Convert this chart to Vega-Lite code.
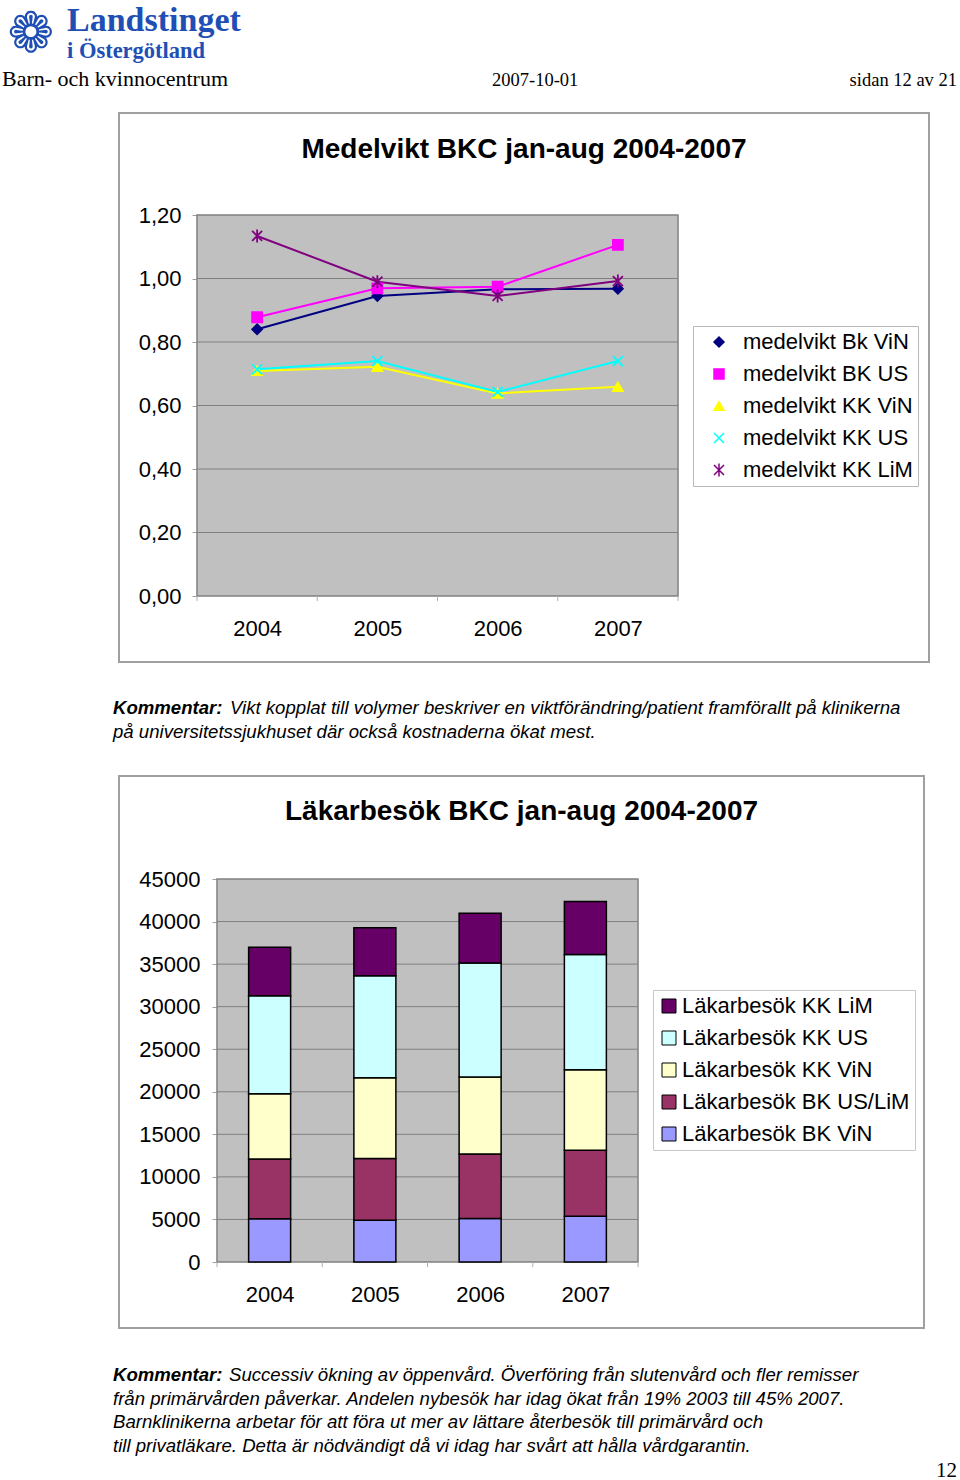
{
  "$schema": "https://vega.github.io/schema/vega-lite/v6.json",
  "background": "white",
  "padding": {"left": 2, "top": 0, "right": 0, "bottom": 0},
  "spacing": 0,
  "bounds": "flush",
  "resolve": {
    "scale": {"color": "independent", "stroke": "independent", "shape": "independent"},
    "legend": {"color": "independent", "stroke": "independent", "shape": "independent"}
  },
  "config": {"view": {"stroke": null}, "font": "Liberation Sans"},
  "datasets": {
    "header": [
      {"part": "mark", "text": "❁"},
      {"part": "name1", "text": "Landstinget"},
      {"part": "name2", "text": "i Östergötland"},
      {"part": "unit", "text": "Barn- och kvinnocentrum"},
      {"part": "date", "text": "2007-10-01"},
      {"part": "page", "text": "sidan 12 av 21"}
    ],
    "weight": [
      {"year": 2004, "series": "medelvikt Bk ViN", "value": 0.840},
      {"year": 2005, "series": "medelvikt Bk ViN", "value": 0.945},
      {"year": 2006, "series": "medelvikt Bk ViN", "value": 0.966},
      {"year": 2007, "series": "medelvikt Bk ViN", "value": 0.968},
      {"year": 2004, "series": "medelvikt BK US", "value": 0.878},
      {"year": 2005, "series": "medelvikt BK US", "value": 0.969},
      {"year": 2006, "series": "medelvikt BK US", "value": 0.974},
      {"year": 2007, "series": "medelvikt BK US", "value": 1.106},
      {"year": 2004, "series": "medelvikt KK ViN", "value": 0.709},
      {"year": 2005, "series": "medelvikt KK ViN", "value": 0.722},
      {"year": 2006, "series": "medelvikt KK ViN", "value": 0.638},
      {"year": 2007, "series": "medelvikt KK ViN", "value": 0.659},
      {"year": 2004, "series": "medelvikt KK US", "value": 0.714},
      {"year": 2005, "series": "medelvikt KK US", "value": 0.740},
      {"year": 2006, "series": "medelvikt KK US", "value": 0.643},
      {"year": 2007, "series": "medelvikt KK US", "value": 0.740},
      {"year": 2004, "series": "medelvikt KK LiM", "value": 1.134},
      {"year": 2005, "series": "medelvikt KK LiM", "value": 0.990},
      {"year": 2006, "series": "medelvikt KK LiM", "value": 0.945},
      {"year": 2007, "series": "medelvikt KK LiM", "value": 0.992}
    ],
    "weightTicks": [{"v": 0.2}, {"v": 0.4}, {"v": 0.6}, {"v": 0.8}, {"v": 1.0}],
    "visitTicks": [{"v": 5000}, {"v": 10000}, {"v": 15000}, {"v": 20000}, {"v": 25000}, {"v": 30000}, {"v": 35000}, {"v": 40000}],
    "bounds": [{"b": 2003.5}, {"b": 2004.5}, {"b": 2005.5}, {"b": 2006.5}, {"b": 2007.5}],
    "visits": [
      {"year": 2004, "series": "Läkarbesök BK ViN", "seriesIndex": 1, "visits": 5070},
      {"year": 2004, "series": "Läkarbesök BK US/LiM", "seriesIndex": 2, "visits": 7040},
      {"year": 2004, "series": "Läkarbesök KK ViN", "seriesIndex": 3, "visits": 7660},
      {"year": 2004, "series": "Läkarbesök KK US", "seriesIndex": 4, "visits": 11500},
      {"year": 2004, "series": "Läkarbesök KK LiM", "seriesIndex": 5, "visits": 5720},
      {"year": 2005, "series": "Läkarbesök BK ViN", "seriesIndex": 1, "visits": 4910},
      {"year": 2005, "series": "Läkarbesök BK US/LiM", "seriesIndex": 2, "visits": 7240},
      {"year": 2005, "series": "Läkarbesök KK ViN", "seriesIndex": 3, "visits": 9510},
      {"year": 2005, "series": "Läkarbesök KK US", "seriesIndex": 4, "visits": 11970},
      {"year": 2005, "series": "Läkarbesök KK LiM", "seriesIndex": 5, "visits": 5630},
      {"year": 2006, "series": "Läkarbesök BK ViN", "seriesIndex": 1, "visits": 5110},
      {"year": 2006, "series": "Läkarbesök BK US/LiM", "seriesIndex": 2, "visits": 7590},
      {"year": 2006, "series": "Läkarbesök KK ViN", "seriesIndex": 3, "visits": 9050},
      {"year": 2006, "series": "Läkarbesök KK US", "seriesIndex": 4, "visits": 13370},
      {"year": 2006, "series": "Läkarbesök KK LiM", "seriesIndex": 5, "visits": 5870},
      {"year": 2007, "series": "Läkarbesök BK ViN", "seriesIndex": 1, "visits": 5380},
      {"year": 2007, "series": "Läkarbesök BK US/LiM", "seriesIndex": 2, "visits": 7750},
      {"year": 2007, "series": "Läkarbesök KK ViN", "seriesIndex": 3, "visits": 9470},
      {"year": 2007, "series": "Läkarbesök KK US", "seriesIndex": 4, "visits": 13530},
      {"year": 2007, "series": "Läkarbesök KK LiM", "seriesIndex": 5, "visits": 6220}
    ],
    "comment1": [
      {"line": 1, "kind": "label", "text": "Kommentar:"},
      {"line": 1, "kind": "body", "text": "Vikt kopplat till volymer beskriver en viktförändring/patient framförallt på klinikerna"},
      {"line": 2, "kind": "body", "text": "på universitetssjukhuset där också kostnaderna ökat mest."}
    ],
    "comment2": [
      {"line": 1, "kind": "label", "text": "Kommentar:"},
      {"line": 1, "kind": "body", "text": "Successiv ökning av öppenvård. Överföring från slutenvård och fler remisser"},
      {"line": 2, "kind": "body", "text": "från primärvården påverkar. Andelen nybesök har idag ökat från 19% 2003 till 45% 2007."},
      {"line": 3, "kind": "body", "text": "Barnklinikerna arbetar för att föra ut mer av lättare återbesök till primärvård och"},
      {"line": 4, "kind": "body", "text": "till privatläkare. Detta är nödvändigt då vi idag har svårt att hålla vårdgarantin."}
    ],
    "pageNo": [{"text": "12"}]
  },
  "vconcat": [
    {
      "width": 810,
      "height": 113,
      "data": {"name": "header"},
      "layer": [
        {"transform": [{"filter": "datum.part == 'mark'"}],
         "mark": {"type": "text", "x": -88, "y": 35, "align": "center", "baseline": "middle", "fontSize": 56, "font": "DejaVu Sans", "color": "#1f4fb5"},
         "encoding": {"text": {"field": "text"}}},
        {"transform": [{"filter": "datum.part == 'name1'"}],
         "mark": {"type": "text", "x": -52, "y": 31, "align": "left", "baseline": "alphabetic", "fontSize": 34, "font": "Liberation Serif", "fontWeight": "bold", "color": "#1f4fb5"},
         "encoding": {"text": {"field": "text"}}},
        {"transform": [{"filter": "datum.part == 'name2'"}],
         "mark": {"type": "text", "x": -52, "y": 58, "align": "left", "baseline": "alphabetic", "fontSize": 22.5, "font": "Liberation Serif", "fontWeight": "bold", "color": "#1f4fb5"},
         "encoding": {"text": {"field": "text"}}},
        {"transform": [{"filter": "datum.part == 'unit'"}],
         "mark": {"type": "text", "x": -117, "y": 86, "align": "left", "baseline": "alphabetic", "fontSize": 22, "font": "Liberation Serif", "color": "black"},
         "encoding": {"text": {"field": "text"}}},
        {"transform": [{"filter": "datum.part == 'date'"}],
         "mark": {"type": "text", "x": 373, "y": 86, "align": "left", "baseline": "alphabetic", "fontSize": 18.5, "font": "Liberation Serif", "color": "black"},
         "encoding": {"text": {"field": "text"}}},
        {"transform": [{"filter": "datum.part == 'page'"}],
         "mark": {"type": "text", "x": 838, "y": 86, "align": "right", "baseline": "alphabetic", "fontSize": 18.5, "font": "Liberation Serif", "color": "black"},
         "encoding": {"text": {"field": "text"}}}
      ]
    },
    {
      "width": 810,
      "height": 549,
      "view": {"stroke": "#a0a0a0", "strokeWidth": 2, "fill": "white"},
      "title": {"text": "Medelvikt BKC jan-aug 2004-2007", "fontSize": 28, "fontWeight": "bold", "color": "black", "anchor": "middle", "frame": "group", "offset": -51},
      "layer": [
        {
          "data": {"values": [{}]},
          "mark": {"type": "rect", "fill": "#c0c0c0", "stroke": "#808080", "strokeWidth": 1.5},
          "encoding": {
            "x": {"datum": 2003.5, "type": "quantitative",
                  "scale": {"domain": [2003.5, 2007.5], "range": [78, 559], "nice": false, "zero": false, "padding": 0},
                  "axis": {"orient": "bottom", "offset": -66, "values": [2004, 2005, 2006, 2007], "format": "d", "title": null, "grid": false, "domain": false, "ticks": false, "tickSize": 0, "labelFontSize": 22, "labelColor": "black", "labelPadding": 22}},
            "x2": {"datum": 2007.5},
            "y": {"datum": 0, "type": "quantitative",
                  "scale": {"domain": [0, 1.2], "range": [483, 102], "nice": false, "zero": false, "padding": 0},
                  "axis": {"orient": "left", "offset": -78, "values": [0, 0.2, 0.4, 0.6, 0.8, 1.0, 1.2], "labelExpr": "replace(format(datum.value, '.2f'), '.', ',')", "title": null, "grid": false, "domain": false, "tickColor": "#a0a0a0", "tickSize": 5, "labelFontSize": 22, "labelColor": "black", "labelPadding": 11}},
            "y2": {"datum": 1.2}
          }
        },
        {
          "data": {"name": "weightTicks"},
          "mark": {"type": "rule", "color": "#808080", "strokeWidth": 1},
          "encoding": {"y": {"field": "v", "type": "quantitative"}, "x": {"datum": 2003.5, "type": "quantitative"}, "x2": {"datum": 2007.5}}
        },
        {
          "data": {"name": "bounds"},
          "mark": {"type": "rule", "color": "#b0b0b0", "strokeWidth": 1},
          "encoding": {"x": {"field": "b", "type": "quantitative"}, "y": {"datum": 0, "type": "quantitative"}, "y2": {"datum": -0.016}}
        },
        {
          "data": {"name": "weight"},
          "mark": {"type": "line", "strokeWidth": 2},
          "encoding": {
            "x": {"field": "year", "type": "quantitative"},
            "y": {"field": "value", "type": "quantitative"},
            "color": {"field": "series", "type": "nominal",
                      "scale": {"domain": ["medelvikt Bk ViN", "medelvikt BK US", "medelvikt KK ViN", "medelvikt KK US", "medelvikt KK LiM"], "range": ["#000080", "#ff00ff", "#ffff00", "#00ffff", "#800080"]},
                      "legend": {"orient": "none", "legendX": 574, "legendY": 213, "title": null, "labelFontSize": 22, "labelColor": "black", "labelLimit": 400, "strokeColor": "#b8b8b8", "fillColor": "white", "padding": 5, "rowPadding": 10, "symbolOffset": 10, "labelOffset": 13, "symbolSize": 100, "symbolStrokeWidth": 1.5}}
          }
        },
        {
          "data": {"name": "weight"},
          "mark": {"type": "point", "filled": true, "size": 100, "strokeWidth": 1.8, "opacity": 1},
          "encoding": {
            "x": {"field": "year", "type": "quantitative"},
            "y": {"field": "value", "type": "quantitative"},
            "color": {"field": "series", "type": "nominal"},
            "stroke": {"field": "series", "type": "nominal",
                       "scale": {"domain": ["medelvikt Bk ViN", "medelvikt BK US", "medelvikt KK ViN", "medelvikt KK US", "medelvikt KK LiM"], "range": ["#000080", "#ff00ff", "#ffff00", "#00ffff", "#800080"]}},
            "shape": {"field": "series", "type": "nominal",
                      "scale": {"domain": ["medelvikt Bk ViN", "medelvikt BK US", "medelvikt KK ViN", "medelvikt KK US", "medelvikt KK LiM"], "range": ["diamond", "square", "triangle-up", "M-1,-1L1,1M-1,1L1,-1", "M-1,-1L1,1M-1,1L1,-1M0,-1.3L0,1.3"]}}
          }
        }
      ]
    },
    {
      "width": 810,
      "height": 114,
      "data": {"name": "comment1"},
      "encoding": {
        "y": {"field": "line", "type": "ordinal", "scale": {"type": "point", "range": [46, 70], "padding": 0}, "axis": null},
        "text": {"field": "text"}
      },
      "layer": [
        {"transform": [{"filter": "datum.kind == 'label'"}],
         "mark": {"type": "text", "x": -6, "align": "left", "baseline": "middle", "fontSize": 18.6, "fontWeight": "bold", "fontStyle": "italic", "color": "black"}},
        {"transform": [{"filter": "datum.kind == 'body' && datum.line == 1"}],
         "mark": {"type": "text", "x": 111, "align": "left", "baseline": "middle", "fontSize": 18.6, "fontStyle": "italic", "color": "black"}},
        {"transform": [{"filter": "datum.kind == 'body' && datum.line > 1"}],
         "mark": {"type": "text", "x": -6, "align": "left", "baseline": "middle", "fontSize": 18.6, "fontStyle": "italic", "color": "black"}}
      ]
    },
    {
      "width": 805,
      "height": 552,
      "view": {"stroke": "#a0a0a0", "strokeWidth": 2, "fill": "white"},
      "title": {"text": "Läkarbesök BKC jan-aug 2004-2007", "fontSize": 28, "fontWeight": "bold", "color": "black", "anchor": "middle", "frame": "group", "offset": -50},
      "layer": [
        {
          "data": {"values": [{}]},
          "mark": {"type": "rect", "fill": "#c0c0c0", "stroke": "#808080", "strokeWidth": 1.5},
          "encoding": {
            "x": {"datum": 2003.5, "type": "quantitative",
                  "scale": {"domain": [2003.5, 2007.5], "range": [98, 519], "nice": false, "zero": false, "padding": 0},
                  "axis": {"orient": "bottom", "offset": -66, "values": [2004, 2005, 2006, 2007], "format": "d", "title": null, "grid": false, "domain": false, "ticks": false, "tickSize": 0, "labelFontSize": 22, "labelColor": "black", "labelPadding": 22}},
            "x2": {"datum": 2007.5},
            "y": {"datum": 0, "type": "quantitative",
                  "scale": {"domain": [0, 45000], "range": [486, 103], "nice": false, "zero": false, "padding": 0},
                  "axis": {"orient": "left", "offset": -98, "values": [0, 5000, 10000, 15000, 20000, 25000, 30000, 35000, 40000, 45000], "format": "d", "title": null, "grid": false, "domain": false, "tickColor": "#a0a0a0", "tickSize": 5, "labelFontSize": 22, "labelColor": "black", "labelPadding": 12}},
            "y2": {"datum": 45000}
          }
        },
        {
          "data": {"name": "visitTicks"},
          "mark": {"type": "rule", "color": "#808080", "strokeWidth": 1},
          "encoding": {"y": {"field": "v", "type": "quantitative"}, "x": {"datum": 2003.5, "type": "quantitative"}, "x2": {"datum": 2007.5}}
        },
        {
          "data": {"name": "bounds"},
          "mark": {"type": "rule", "color": "#b0b0b0", "strokeWidth": 1},
          "encoding": {"x": {"field": "b", "type": "quantitative"}, "y": {"datum": 0, "type": "quantitative"}, "y2": {"datum": -600}}
        },
        {
          "data": {"name": "visits"},
          "mark": {"type": "bar", "orient": "vertical", "size": 42, "stroke": "black", "strokeWidth": 1.5},
          "encoding": {
            "x": {"field": "year", "type": "quantitative"},
            "y": {"field": "visits", "type": "quantitative", "stack": "zero"},
            "order": {"field": "seriesIndex", "type": "quantitative", "sort": "ascending"},
            "color": {"field": "series", "type": "nominal",
                      "sort": ["Läkarbesök KK LiM", "Läkarbesök KK US", "Läkarbesök KK ViN", "Läkarbesök BK US/LiM", "Läkarbesök BK ViN"],
                      "scale": {"range": ["#660066", "#ccffff", "#ffffcc", "#993366", "#9999ff"]},
                      "legend": {"orient": "none", "legendX": 534, "legendY": 214, "title": null, "labelFontSize": 22, "labelColor": "black", "labelLimit": 400, "strokeColor": "#c8c8c8", "fillColor": "white", "padding": 5, "rowPadding": 10, "symbolType": "square", "symbolSize": 196, "symbolStrokeColor": "black", "symbolStrokeWidth": 1, "symbolOffset": 0, "labelOffset": 2}}
          }
        }
      ]
    },
    {
      "width": 810,
      "height": 152,
      "layer": [
        {
          "data": {"name": "comment2"},
          "encoding": {
            "y": {"field": "line", "type": "ordinal", "scale": {"type": "point", "range": [47, 118], "padding": 0}, "axis": null},
            "text": {"field": "text"}
          },
          "layer": [
            {"transform": [{"filter": "datum.kind == 'label'"}],
             "mark": {"type": "text", "x": -6, "align": "left", "baseline": "middle", "fontSize": 18.6, "fontWeight": "bold", "fontStyle": "italic", "color": "black"}},
            {"transform": [{"filter": "datum.kind == 'body' && datum.line == 1"}],
             "mark": {"type": "text", "x": 110, "align": "left", "baseline": "middle", "fontSize": 18.6, "fontStyle": "italic", "color": "black"}},
            {"transform": [{"filter": "datum.kind == 'body' && datum.line > 1"}],
             "mark": {"type": "text", "x": -6, "align": "left", "baseline": "middle", "fontSize": 18.6, "fontStyle": "italic", "color": "black"}}
          ]
        },
        {
          "data": {"name": "pageNo"},
          "mark": {"type": "text", "x": 838, "y": 149, "align": "right", "baseline": "alphabetic", "fontSize": 21, "font": "Liberation Serif", "color": "black"},
          "encoding": {"text": {"field": "text"}}
        }
      ]
    }
  ]
}
